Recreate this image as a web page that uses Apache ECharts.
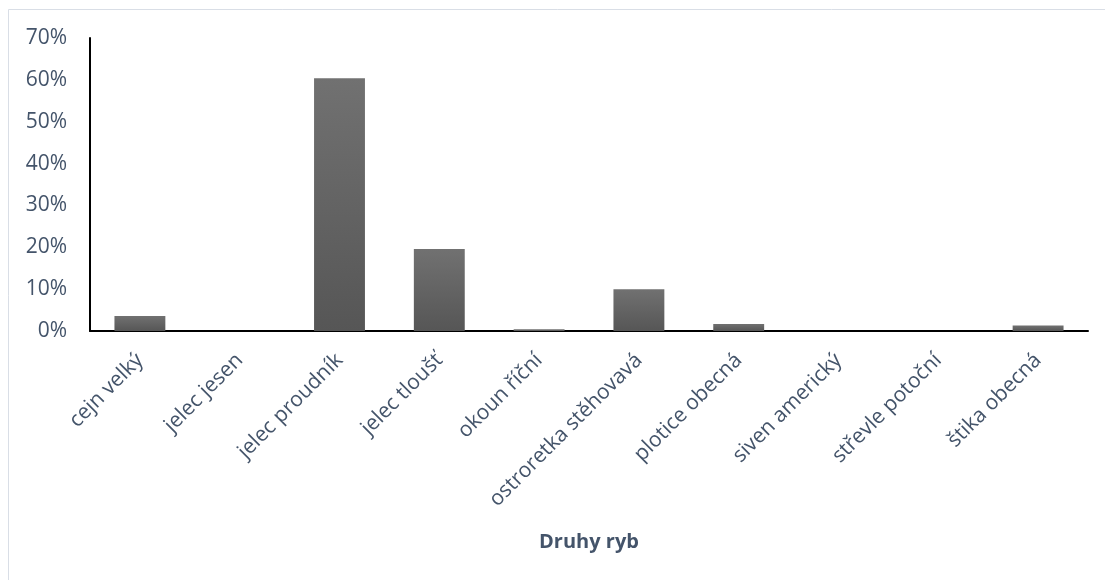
<!DOCTYPE html>
<html>
<head>
<meta charset="utf-8">
<script src="https://cdn.jsdelivr.net/npm/echarts@6/dist/echarts.min.js"></script>
<style>
  html, body { margin: 0; padding: 0; background: #ffffff; }
  #chart { width: 1105px; height: 580px; }
</style>
</head>
<body>
<div id="chart"></div>
<script>
// Fish species caught and their share of the total catch (%)
const species = [
  'cejn velký', 'jelec jesen', 'jelec proudník', 'jelec tloušť', 'okoun říční',
  'ostroretka stěhovavá', 'plotice obecná', 'siven americký', 'střevle potoční', 'štika obecná'
];
const sharePercent = [3.6, 0, 60.4, 19.6, 0.4, 10.0, 1.7, 0, 0, 1.3];
const yTicks = [0, 10, 20, 30, 40, 50, 60, 70];
const axisTitle = 'Druhy ryb';

const textColor = '#44546A';
const fontFamily = '"Open Sans", sans-serif';

const chart = echarts.init(document.getElementById('chart'), null, { renderer: 'canvas' });

chart.setOption({
  backgroundColor: '#ffffff',
  animation: false,
  textStyle: { fontFamily: fontFamily },
  graphic: [{
    type: 'rect',
    silent: true,
    shape: { x: 8.5, y: 9.5, width: 1200, height: 700 },
    style: { fill: 'none', stroke: '#d9dee6', lineWidth: 1 }
  }],
  grid: { left: 90, right: 17, top: 38, bottom: 249, containLabel: false },
  xAxis: {
    type: 'category',
    data: species,
    axisLine: { show: true, lineStyle: { color: '#000000', width: 2 } },
    axisTick: { show: false },
    axisLabel: {
      interval: 0,
      rotate: 45,
      margin: 26,
      fontSize: 21,
      color: textColor,
      fontFamily: fontFamily
    },
    name: axisTitle,
    nameLocation: 'middle',
    nameGap: 201,
    nameTextStyle: { fontSize: 20, fontWeight: 'bold', color: textColor, fontFamily: fontFamily }
  },
  yAxis: {
    type: 'value',
    min: yTicks[0],
    max: yTicks[yTicks.length - 1],
    interval: yTicks[1] - yTicks[0],
    axisLine: { show: true, lineStyle: { color: '#000000', width: 2 } },
    axisTick: { show: false },
    splitLine: { show: false },
    axisLabel: {
      formatter: '{value}%',
      fontSize: 21,
      margin: 23,
      color: textColor,
      fontFamily: fontFamily
    }
  },
  series: [{
    type: 'bar',
    data: sharePercent,
    barWidth: '51%',
    itemStyle: {
      color: new echarts.graphic.LinearGradient(0, 0, 0, 1, [
        { offset: 0, color: '#717171' },
        { offset: 1, color: '#565656' }
      ])
    }
  }]
});
</script>
</body>
</html>
